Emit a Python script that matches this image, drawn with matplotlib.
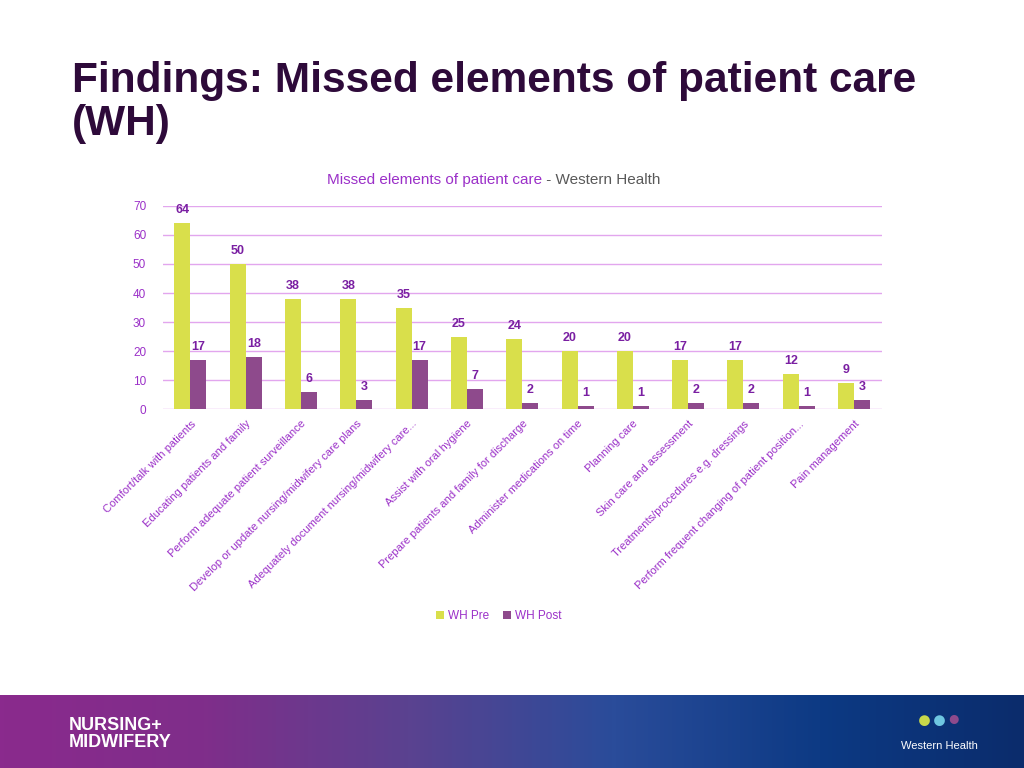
import matplotlib.pyplot as plt
import numpy as np
from matplotlib.colors import LinearSegmentedColormap

plt.rcParams['font.family'] = ['Liberation Sans', 'DejaVu Sans']

categories = ['Comfort/talk with patients', 'Educating patients and family',
              'Perform adequate patient surveillance',
              'Develop or update nursing/midwifery care plans',
              'Adequately document nursing/midwifery care...',
              'Assist with oral hygiene', 'Prepare patients and family for discharge',
              'Administer medications on time', 'Planning care',
              'Skin care and assessment', 'Treatments/procedures e.g. dressings',
              'Perform frequent changing of patient position...', 'Pain management']
wh_pre = [64, 50, 38, 38, 35, 25, 24, 20, 20, 17, 17, 12, 9]
wh_post = [17, 18, 6, 3, 17, 7, 2, 1, 1, 2, 2, 1, 3]

yellow = '#D9DF4B'
purple = '#8E4A8C'
label_col = '#7A1FA2'
tick_col = '#9B30C8'

fig = plt.figure(figsize=(10.24, 7.68), dpi=100)

# title
fig.text(0.07, 0.92, 'Findings: Missed elements of patient care\n(WH)',
         fontsize=30.5, fontweight='bold', color='#2E0A3A', va='top', ha='left',
         linespacing=1.08)

ax = fig.add_axes([0.159, 0.4674, 0.702, 0.2644])
x = np.arange(len(categories))
w = 0.29
b1 = ax.bar(x - w / 2, wh_pre, w, color=yellow, label='WH Pre', zorder=3)
b2 = ax.bar(x + w / 2, wh_post, w, color=purple, label='WH Post', zorder=3)
for bars in (b1, b2):
    ax.bar_label(bars, padding=5, fontsize=9, fontweight='bold', color=label_col)

ax.set_xlim(-0.5, len(categories) - 0.5)
ax.set_ylim(0, 70)
ax.set_yticks(range(0, 71, 10))
ax.grid(axis='y', color='#E2A6EE', linewidth=1.0, zorder=0)
for s in ax.spines.values():
    s.set_visible(False)
ax.tick_params(axis='y', length=0, labelsize=8.5, labelcolor=tick_col, pad=12)
ax.set_xticks(x)
ax.set_xticklabels(categories, rotation=45, ha='right', rotation_mode='anchor',
                   fontsize=8, color=tick_col)
ax.tick_params(axis='x', length=0, pad=7)

fig.text(0.529, 0.765, 'Missed elements of patient care', fontsize=11,
         color=tick_col, ha='right', va='center')
fig.text(0.529, 0.765, ' - Western Health', fontsize=11,
         color='#595959', ha='left', va='center')

fig.legend(handles=[b1, b2], labels=['WH Pre', 'WH Post'], loc='center',
           bbox_to_anchor=(0.487, 0.198), ncol=2, frameon=False, fontsize=8.5,
           labelcolor=tick_col, handlelength=0.7, handleheight=0.7,
           handletextpad=0.3, columnspacing=1.2)

# footer band
fax = fig.add_axes([0, 0, 1, 73 / 768])
cmap = LinearSegmentedColormap.from_list('band', ['#8A2A8D', '#7F2E8A', '#5A4290',
                                                  '#2A4C9A', '#0D3A84', '#0B2C6C'])
grad = np.linspace(0, 1, 512).reshape(1, -1)
fax.imshow(grad, aspect='auto', cmap=cmap, extent=[0, 1, 0, 1])
fax.set_xlim(0, 1)
fax.set_ylim(0, 1)
fax.axis('off')
fax.text(0.067, 0.47, 'NURSING+\nMIDWIFERY', color='white', fontsize=13,
         fontweight='bold', va='center', ha='left', linespacing=1.0)
fax.text(0.917, 0.3, 'Western Health', color='white', fontsize=8,
         va='center', ha='center')
fax.text(0.903, 0.64, '\u25CF', color='#C8D84A', fontsize=18, ha='center', va='center')
fax.text(0.917, 0.64, '\u25CF', color='#6EC6E0', fontsize=18, ha='center', va='center')
fax.text(0.931, 0.66, '\u25CF', color='#8E4A8C', fontsize=15, ha='center', va='center')

fig.savefig('out.png', dpi=100)
